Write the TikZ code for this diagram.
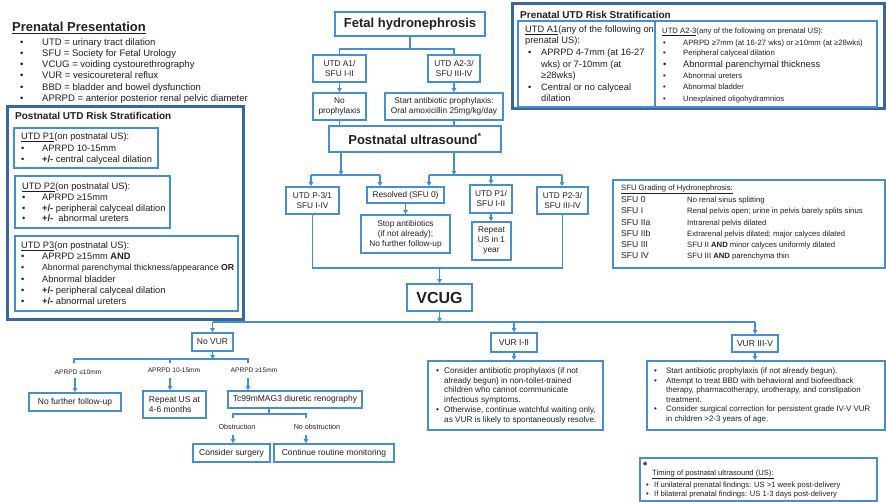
\documentclass[tikz,border=0pt]{standalone}
\usepackage{fontspec}
\setmainfont{Liberation Sans}
\usetikzlibrary{arrows.meta}
\definecolor{bblue}{RGB}{72,141,204}
\definecolor{dblue}{RGB}{58,104,155}
\definecolor{tcol}{RGB}{35,31,32}
\newcommand\bl[2]{\makebox[#1][l]{\textbullet}#2}
\begin{document}
\begin{tikzpicture}[x=1pt,y=-1pt,
  corners/.style args={#1/#2/#3/#4}{minimum width={#3-#1}, minimum height={#4-#2}, at={({(#1+#3)/2},{(#2+#4)/2})}},
  bx/.style={draw=bblue, line width=1.8pt, fill=white, inner sep=0pt, align=center, text=tcol},
  obx/.style={draw=dblue, line width=3pt, inner sep=0pt},
  conn/.style={draw=bblue, line width=1.3pt},
  arr/.style={conn, -{Triangle[length=4pt,width=4.5pt]}},
  tl/.style={anchor=base west, inner sep=0pt, text=tcol},
  tc/.style={anchor=base, inner sep=0pt, text=tcol},
  fa/.style={font=\fontsize{8.3}{10}\selectfont},
  fb/.style={font=\fontsize{13}{15}\selectfont\bfseries},
  fl/.style={font=\fontsize{9.3}{11}\selectfont},
  fs/.style={font=\fontsize{7.7}{9.5}\selectfont},
  fm/.style={font=\fontsize{8.5}{10}\selectfont},
]
\fill[white] (0,0) rectangle (886,502);
\useasboundingbox (0,0) rectangle (886,502);

% ---------- Prenatal presentation legend ----------
\node[tl, fb] (pptitle) at (12,31.5) {\underline{Prenatal Presentation}};
\begin{scope}[font=\fontsize{9.5}{11}\selectfont]
\node[tl] (pp1) at (20,45.4) {\bl{22pt}{UTD = urinary tract dilation}};
\node[tl] (pp2) at (20,56.4) {\bl{22pt}{SFU = Society for Fetal Urology}};
\node[tl] (pp3) at (20,67.4) {\bl{22pt}{VCUG = voiding cystourethrography}};
\node[tl] (pp4) at (20,79) {\bl{22pt}{VUR = vesicoureteral reflux}};
\node[tl] (pp5) at (20,90.4) {\bl{22pt}{BBD = bladder and bowel dysfunction}};
\node[tl] (pp6) at (20,102) {\bl{22pt}{APRPD = anterior posterior renal pelvic diameter}};
\end{scope}

% ---------- Postnatal UTD risk stratification ----------
\node[obx, corners=7/107/243/320] (postbox) {};
\node[tl, font=\fontsize{10}{12}\selectfont\bfseries] (posttitle) at (15,119.5) {Postnatal UTD Risk Stratification};
\node[bx, corners=14/128/158/168] (p1box) {};
\node[bx, corners=15/176/170/228] (p2box) {};
\node[bx, corners=15/236/238/311] (p3box) {};
\begin{scope}[fl]
\node[tl] (p1l0) at (21,140) {\underline{UTD P1}(on postnatal US):};
\node[tl] (p1l1) at (21,151.3) {\bl{21pt}{APRPD 10-15mm}};
\node[tl] (p1l2) at (21,162.3) {\bl{21pt}{\textbf{+/-} central calyceal dilation}};
\node[tl] (p2l0) at (22,189.3) {\underline{UTD P2}(on postnatal US):};
\node[tl] (p2l1) at (22,200.6) {\bl{20pt}{APRPD ≥15mm}};
\node[tl] (p2l2) at (22,211.3) {\bl{20pt}{\textbf{+/-} peripheral calyceal dilation}};
\node[tl] (p2l3) at (22,222) {\bl{20pt}{\textbf{+/-}\ \ abnormal ureters}};
\node[tl] (p3l0) at (21,249) {\underline{UTD P3}(on postnatal US):};
\node[tl] (p3l1) at (21,260) {\bl{21pt}{APRPD ≥15mm \textbf{AND}}};
\node[tl, font=\fontsize{8.7}{11}\selectfont] (p3l2) at (21,271) {\bl{21pt}{Abnormal parenchymal thickness/appearance \textbf{OR}}};
\node[tl] (p3l3) at (21,282.3) {\bl{21pt}{Abnormal bladder}};
\node[tl] (p3l4) at (21,293.3) {\bl{21pt}{\textbf{+/-} peripheral calyceal dilation}};
\node[tl] (p3l5) at (21,305) {\bl{21pt}{\textbf{+/-} abnormal ureters}};
\end{scope}

% ---------- Prenatal UTD risk stratification ----------
\node[obx, corners=512/4/884/109] (prebox) {};
\node[tl, font=\fontsize{10}{12}\selectfont\bfseries] (pretitle) at (520,18.5) {Prenatal UTD Risk Stratification};
\node[bx, corners=518/21/655/107] (a1box) {};
\node[bx, corners=655/21/877/107] (a23box) {};
\begin{scope}[fl]
\node[tl] (a1l0) at (525,32.3) {\underline{UTD A1}(any of the following on};
\node[tl] (a1l1) at (525,44) {prenatal US):};
\node[tl] (a1l2) at (528,55.6) {\bl{13pt}{APRPD 4-7mm (at 16-27}};
\node[tl] (a1l3) at (541,67.3) {wks) or 7-10mm (at};
\node[tl] (a1l4) at (541,78.3) {≥28wks)};
\node[tl] (a1l5) at (528,90.6) {\bl{13pt}{Central or no calyceal}};
\node[tl] (a1l6) at (541,102) {dilation};
\end{scope}
\begin{scope}[fs]
\node[tl] (a2l0) at (662,33.6) {\underline{UTD A2-3}(any of the following on prenatal US):};
\node[tl] (a2l1) at (663,45.9) {\bl{20pt}{APRPD ≥7mm (at 16-27 wks) or ≥10mm (at ≥28wks)}};
\node[tl] (a2l2) at (663,55.3) {\bl{20pt}{Peripheral calyceal dilation}};
\node[tl, fl] (a2l3) at (663,67.6) {\bl{20pt}{Abnormal parenchymal thickness}};
\node[tl] (a2l4) at (663,78.6) {\bl{20pt}{Abnormal ureters}};
\node[tl] (a2l5) at (663,89.9) {\bl{20pt}{Abnormal bladder}};
\node[tl] (a2l6) at (663,101.3) {\bl{20pt}{Unexplained oligohydramnios}};
\end{scope}

% ---------- SFU grading ----------
\node[bx, corners=613/180/885/268] (sfubox) {};
\node[tl, fs] (sfut) at (621,190.5) {\underline{SFU Grading of Hydronephrosis:}};
\begin{scope}[font=\fontsize{8.6}{10}\selectfont]
\node[tl] (sfu0) at (621,202.5) {\makebox[66pt][l]{SFU 0}{\fontsize{7.7}{9}\selectfont No renal sinus splitting}};
\node[tl] (sfu1) at (621,213.8) {\makebox[66pt][l]{SFU I}{\fontsize{7.7}{9}\selectfont Renal pelvis open; urine in pelvis barely splits sinus}};
\node[tl] (sfu2a) at (621,225.1) {\makebox[66pt][l]{SFU IIa}{\fontsize{7.7}{9}\selectfont Intrarenal pelvis dilated}};
\node[tl] (sfu2b) at (621,236.4) {\makebox[66pt][l]{SFU IIb}{\fontsize{7.7}{9}\selectfont Extrarenal pelvis dilated; major calyces dilated}};
\node[tl] (sfu3) at (621,247.7) {\makebox[66pt][l]{SFU III}{\fontsize{7.7}{9}\selectfont SFU II \textbf{AND} minor calyces uniformly dilated}};
\node[tl] (sfu4) at (621,259) {\makebox[66pt][l]{SFU IV}{\fontsize{7.7}{9}\selectfont SFU III \textbf{AND} parenchyma thin}};
\end{scope}

% ---------- Main flow: top ----------
\node[bx, corners=335/12/485/36, fb] (fetal) {Fetal hydronephrosis};
\node[bx, corners=313/55/366/82, fa] (a1) {UTD A1/\\SFU I-II};
\node[bx, corners=428/55/480/82, fa] (a23) {UTD A2-3/\\SFU III-IV};
\node[bx, corners=313/93/366/120, fa] (noproph) {No\\prophylaxis};
\node[bx, corners=385/93/503/120, fa] (startab) {Start antibiotic prophylaxis:\\Oral amoxicillin 25mg/kg/day};
\node[bx, corners=329/126/501/152, fb] (postus) {Postnatal ultrasound\textsuperscript{*}};

\draw[conn] (fetal.south) -- ++(0,12) -| (a1.north);
\draw[conn] (fetal.south) -- ++(0,12) -| (a23.north);
\draw[arr] (a1.south) -- (noproph.north);
\draw[arr] (a23.south) -- (a23.south |- startab.north);
\draw[conn] (noproph.south) -- (noproph.south |- postus.north);
\draw[conn] (a23.south |- startab.south) -- (a23.south |- postus.north);

% ---------- Postnatal outcomes ----------
\node[bx, corners=286/187/339/214, fa] (pm31) {UTD P-3/1\\SFU I-IV};
\node[bx, corners=367/187/444/203, fa] (resolved) {Resolved (SFU 0)};
\node[bx, corners=470/185/512/213, fa] (p1) {UTD P1/\\SFU I-II};
\node[bx, corners=537/187/588/214, fa] (p23) {UTD P2-3/\\SFU III-IV};
\node[bx, corners=361/215/450/253, fa] (stop) {Stop antibiotics\\(if not already);\\No further follow-up};
\node[bx, corners=472/222/511/260, fa] (rep1) {Repeat\\US in 1\\year};

\coordinate (lb) at (341,175);
\coordinate (rb) at (454,175);
\coordinate (b1) at (311,175);
\coordinate (b2) at (380,175);
\coordinate (b3) at (429,175);
\coordinate (b4) at (491,175);
\coordinate (b5) at (562,175);
\draw[arr] (lb |- postus.south) -- (lb);
\draw[arr] (rb |- postus.south) -- (rb);
\draw[conn] (b1) -- (b2);
\draw[conn] (b3) -- (b5);
\draw[arr] (b1) -- (b1 |- pm31.north);
\draw[arr] (b2) -- (b2 |- resolved.north);
\draw[arr] (b3) -- (b3 |- resolved.north);
\draw[arr] (b4) -- (b4 |- p1.north);
\draw[arr] (b5) -- (b5 |- p23.north);
\draw[arr] (resolved.south) -- (stop.north);
\draw[arr] (p1.south) -- (p1.south |- rep1.north);

% ---------- VCUG ----------
\node[bx, corners=407/284/472/311, font=\fontsize{16}{18}\selectfont\bfseries] (vcug) {VCUG};
\coordinate (vb) at (439.5,268);
\draw[conn] (pm31.south) |- (vb);
\draw[conn] (p23.south) |- (vb);
\draw[arr] (vb) -- (vcug.north);

\node[bx, corners=192/333/233/351, fm] (novur) {No VUR};
\node[bx, corners=491/333/537/352, fm] (vur12) {VUR I-II};
\node[bx, corners=732/335/778/352, fm] (vur35) {VUR III-V};
\coordinate (vb2) at (439.5,322);
\coordinate (v1) at (212.5,322);
\coordinate (v3) at (755,322);
\draw[arr] (vcug.south) -- (vb2);
\draw[conn] (v1) -- (v3);
\draw[arr] (v1) -- (novur.north);
\draw[arr] (vur12.north |- v1) -- (vur12.north);
\draw[arr] (v3) -- (vur35.north);

% ---------- VUR I-II ----------
\node[bx, corners=428/361/603/430] (vur12t) {};
\draw[arr] (vur12.south) -- (vur12.south |- vur12t.north);
\begin{scope}[font=\fontsize{8.2}{10}\selectfont]
\node[tl] (v12l1) at (436,373.6) {\bl{8pt}{Consider antibiotic prophylaxis (if not}};
\node[tl] (v12l2) at (444,383.2) {already begun) in non-toilet-trained};
\node[tl] (v12l3) at (444,392.9) {children who cannot communicate};
\node[tl] (v12l4) at (444,402.4) {infectious symptoms.};
\node[tl] (v12l5) at (436,412.9) {\bl{8pt}{Otherwise, continue watchful waiting only,}};
\node[tl] (v12l6) at (444,422.9) {as VUR is likely to spontaneously resolve.};
\end{scope}

% ---------- VUR III-V ----------
\node[bx, corners=647/361/885/430] (vur35t) {};
\draw[arr] (vur35.south) -- (vur35.south |- vur35t.north);
\begin{scope}[font=\fontsize{7.9}{10}\selectfont]
\node[tl] (v35l1) at (654,373.8) {\bl{12pt}{Start antibiotic prophylaxis (if not already begun).}};
\node[tl] (v35l2) at (654,383.3) {\bl{12pt}{Attempt to treat BBD with behavioral and biofeedback}};
\node[tl] (v35l3) at (666,392.8) {therapy, pharmacotherapy, urotherapy, and constipation};
\node[tl] (v35l4) at (666,402.3) {treatment.};
\node[tl] (v35l5) at (654,411.8) {\bl{12pt}{Consider surgical correction for persistent grade IV-V VUR}};
\node[tl] (v35l6) at (666,421.3) {in children >2-3 years of age.};
\end{scope}

% ---------- No VUR branch ----------
\coordinate (nb) at (212.5,359);
\coordinate (n1) at (74,363);
\coordinate (n2) at (170,363);
\coordinate (n3) at (248,363);
\draw[arr] (novur.south) -- (nb);
\draw[conn] (n1) |- (nb);
\draw[conn] (n3) |- (nb);
\draw[conn] (n2) -- (n2 |- nb);
\begin{scope}[font=\fontsize{6.6}{8}\selectfont]
\node[tc] (lab1) at (78,375) {APRPD ≤10mm};
\node[tc] (lab2) at (174,372.5) {APRPD 10-15mm};
\node[tc] (lab3) at (254,372.5) {APRPD ≥15mm};
\end{scope}
\node[bx, corners=29/393/121/411, fm] (nofu) {No further follow-up};
\node[bx, corners=143/391/206/418, fm, align=left] (rep46) {Repeat US at\\4-6 months};
\node[bx, corners=228/391/362/408, fm] (tc99) {Tc99mMAG3 diuretic renography};
\coordinate (m1) at (75,378);
\coordinate (m2) at (170,378);
\coordinate (m3) at (248,378);
\draw[arr] (m1) -- (m1 |- nofu.north);
\draw[arr] (m2) -- (m2 |- rep46.north);
\draw[arr] (m3) -- (m3 |- tc99.north);

\coordinate (tb) at (269,414);
\coordinate (o1) at (233,418);
\coordinate (o2) at (306,418);
\draw[conn] (tb |- tc99.south) -- (tb);
\draw[conn] (o1) |- (tb) -| (o2);
\begin{scope}[font=\fontsize{7.2}{9}\selectfont]
\node[tc] (obs) at (237,429.5) {Obstruction};
\node[tc] (noobs) at (317,429.5) {No obstruction};
\end{scope}
\node[bx, corners=193/444/270/462, fm] (surg) {Consider surgery};
\node[bx, corners=274/444/394/462, fm] (mon) {Continue routine monitoring};
\coordinate (q1) at (233,435);
\coordinate (q2) at (306,435);
\draw[arr] (q1) -- (q1 |- surg.north);
\draw[arr] (q2) -- (q2 |- mon.north);

% ---------- Footnote ----------
\node[bx, corners=640/458/877/501] (footbox) {};
\node[tl, font=\fontsize{11}{12}\selectfont\bfseries] (star) at (643,469) {*};
\begin{scope}[font=\fontsize{7.6}{9}\selectfont]
\node[tl] (timing) at (652,475.5) {\underline{Timing of postnatal ultrasound (US):}};
\node[tl] (fn1) at (646,487.8) {\bl{8pt}{If unilateral prenatal findings: US >1 week post-delivery}};
\node[tl] (fn2) at (646,496.3) {\bl{8pt}{If bilateral prenatal findings: US 1-3 days post-delivery}};
\end{scope}
\end{tikzpicture}
\end{document}
